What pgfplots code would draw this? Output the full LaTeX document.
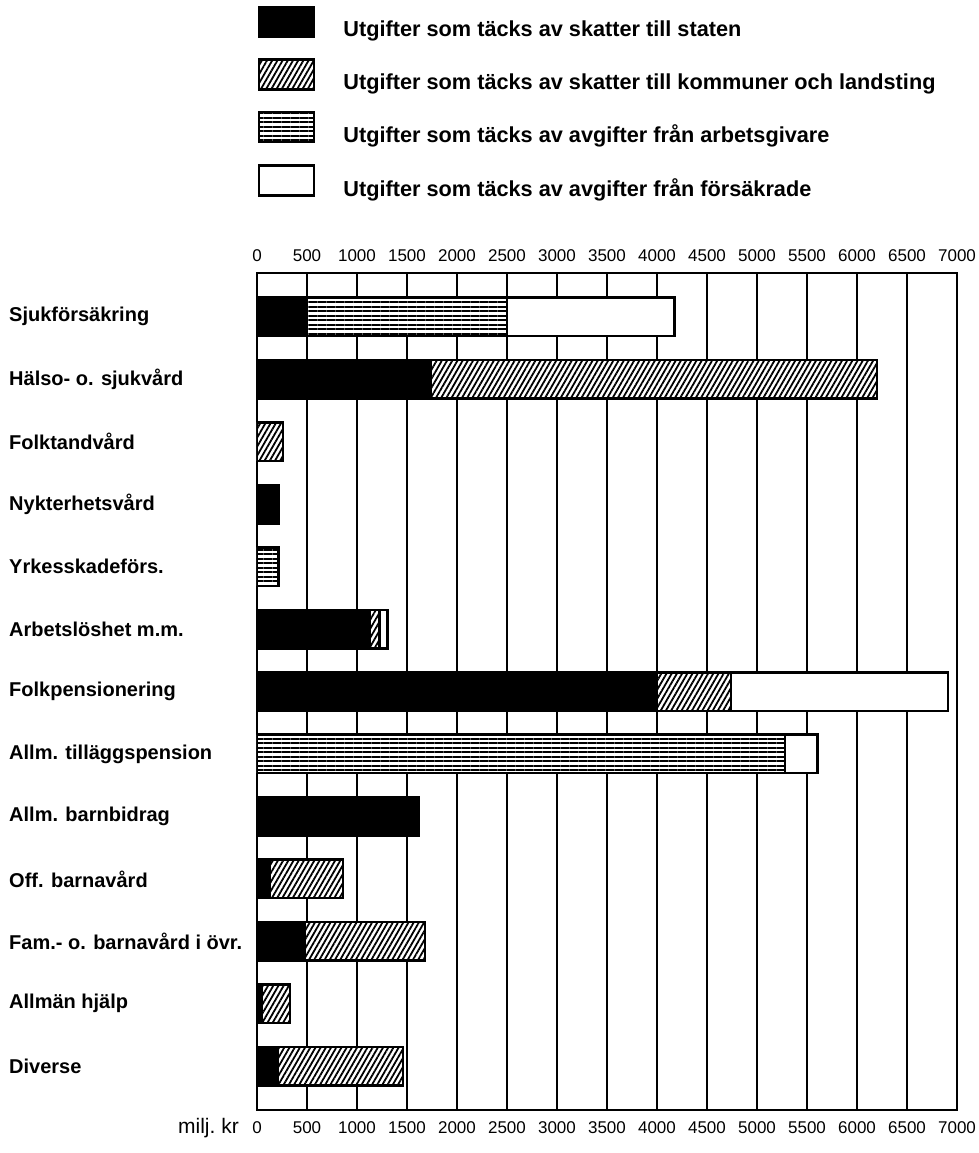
\documentclass[border=0pt]{standalone}
\usepackage{fontspec}
\setmainfont{Liberation Sans}
\usepackage{pgfplots}
\pgfplotsset{compat=1.18}
\usetikzlibrary{patterns.meta}

\pgfplotsset{
  myleg/.style={legend image code/.code={\draw[##1,line width=2.5pt] (0pt,-7.5pt) rectangle (55pt,22.5pt);}},
  tickfont/.style={font=\fontsize{17}{17}\selectfont},
}

\begin{document}
\begin{tikzpicture}
\useasboundingbox (-257pt,-43pt) rectangle (722pt,1110pt);
\begin{axis}[
  name=main,
  at={(0pt,0pt)}, anchor=south west,
  scale only axis, width=700pt, height=837pt,
  xbar stacked, bar width=38.5pt,
  xmin=0, xmax=7000,
  ymin=-0.7, ymax=12.7, y dir=reverse,
  xtick={0,500,...,7000},
  /pgf/number format/1000 sep={},
  /pgf/number format/assume math mode=true,
  ytick={0,...,12},
  yticklabels={Sjukförsäkring, Hälso- o. sjukvård, Folktandvård, Nykterhetsvård, Yrkesskadeförs., Arbetslöshet m.m., Folkpensionering, Allm. tilläggspension, Allm. barnbidrag, Off. barnavård, Fam.- o. barnavård i övr., Allmän hjälp, Diverse},
  yticklabel style={anchor=west, inner sep=0pt, xshift=-248pt, font=\bfseries\fontsize{20}{20}\selectfont},
  xticklabel style={anchor=north, inner sep=0pt, yshift=-11pt, tickfont},
  major tick length=0pt,
  xmajorgrids, grid style={black, line width=2pt},
  axis line style={line width=2.5pt},
  legend style={at={(axis description cs:0.0014,1.3193)}, anchor=north west, draw=none, fill=none,
    inner sep=0pt, outer sep=0pt, row sep=20pt, column sep=28pt,
    font=\bfseries\fontsize{21.7}{21.7}\selectfont, nodes={inner sep=0pt}},
  legend cell align=left,
]
% Utgifter som täcks av skatter till staten
\addplot[myleg, draw=black, line width=2.5pt, fill=black] coordinates {
 (500,0) (1735,1) (0,2) (215,3) (0,4) (1130,5) (4000,6) (0,7) (1620,8) (125,9) (480,10) (50,11) (210,12)};
\addlegendentry{Utgifter som täcks av skatter till staten}
% kommuner och landsting
\addplot[myleg, draw=black, line width=2.5pt, preaction={fill=white}, pattern={Lines[angle=60,distance=4.5pt,line width=1.8pt]}] coordinates {
 (0,0) (4465,1) (260,2) (0,3) (0,4) (95,5) (740,6) (0,7) (0,8) (735,9) (1200,10) (280,11) (1250,12)};
\addlegendentry{Utgifter som täcks av skatter till kommuner och landsting}
% arbetsgivare
\addplot[myleg, draw=black, line width=2.5pt, preaction={fill=white}, pattern={Lines[angle=0,distance=4.5pt,line width=2pt]}] coordinates {
 (2000,0) (0,1) (0,2) (0,3) (215,4) (0,5) (0,6) (5280,7) (0,8) (0,9) (0,10) (0,11) (0,12)};
\addlegendentry{Utgifter som täcks av avgifter från arbetsgivare}
% försäkrade
\addplot[myleg, draw=black, line width=2.5pt, fill=white] coordinates {
 (1675,0) (0,1) (0,2) (0,3) (0,4) (80,5) (2170,6) (325,7) (0,8) (0,9) (0,10) (0,11) (0,12)};
\addlegendentry{Utgifter som täcks av avgifter från försäkrade}
\end{axis}
\begin{axis}[
  at={(0pt,0pt)}, anchor=south west,
  scale only axis, width=700pt, height=837pt,
  xmin=0, xmax=7000, ymin=0, ymax=1,
  xtick={0,500,...,7000},
  /pgf/number format/1000 sep={},
  /pgf/number format/assume math mode=true,
  xticklabel pos=upper, ytick=\empty,
  axis line style={draw=none},
  major tick length=0pt,
  xticklabel style={anchor=south, inner sep=0pt, yshift=11pt, tickfont},
]
\end{axis}
\node[anchor=base east, inner sep=0pt, font=\fontsize{21}{21}\selectfont] at ([xshift=-18pt, yshift=-23.4pt]main.south west) {milj.\ kr};
\end{tikzpicture}
\end{document}
